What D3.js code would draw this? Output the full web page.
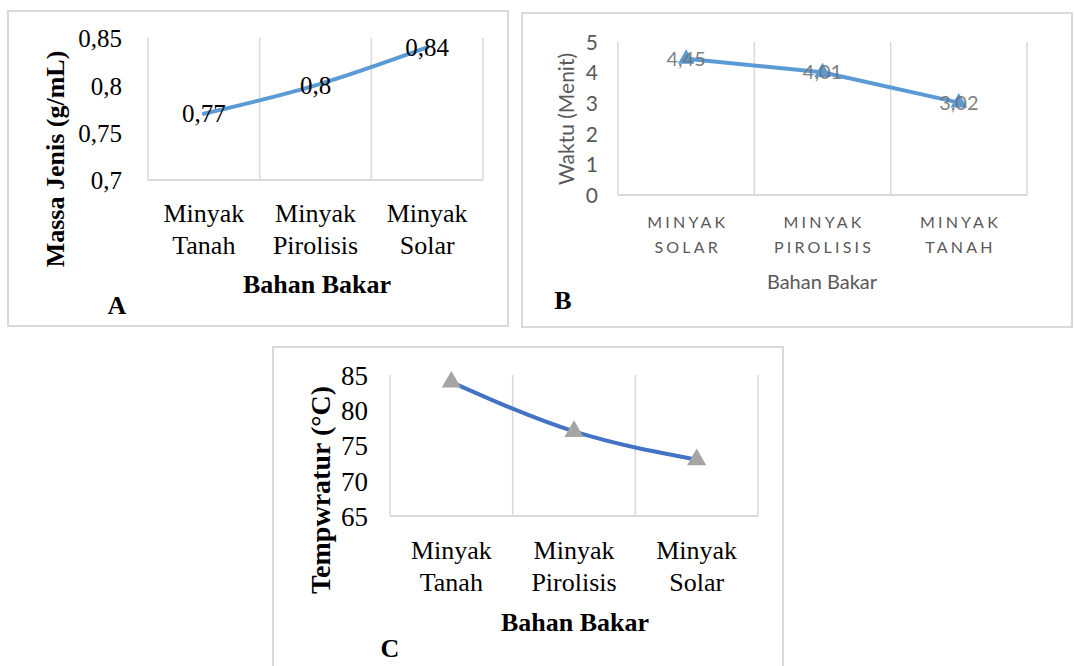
<!DOCTYPE html>
<html>
<head>
<meta charset="utf-8">
<script src="https://cdn.jsdelivr.net/npm/d3@7"></script>
<style>
  html, body { margin: 0; padding: 0; background: #fff; }
  svg { display: block; }
</style>
</head>
<body>
<svg id="chart" width="1074" height="666"></svg>
<script>
// Panel A — density of each fuel
const densityCategories = [["Minyak", "Tanah"], ["Minyak", "Pirolisis"], ["Minyak", "Solar"]];
const densityValues = [0.77, 0.80, 0.84];
const densityLabels = ["0,77", "0,8", "0,84"];
const densityTicks = [0.7, 0.75, 0.8, 0.85];
const densityTickLabels = ["0,7", "0,75", "0,8", "0,85"];

// Panel B — burning time
const timeCategories = [["MINYAK", "SOLAR"], ["MINYAK", "PIROLISIS"], ["MINYAK", "TANAH"]];
const timeValues = [4.45, 4.01, 3.02];
const timeLabels = ["4,45", "4,01", "3,02"];
const timeTicks = [0, 1, 2, 3, 4, 5];
const timeTickLabels = ["0", "1", "2", "3", "4", "5"];

// Panel C — temperature
const tempCategories = [["Minyak", "Tanah"], ["Minyak", "Pirolisis"], ["Minyak", "Solar"]];
const tempValues = [84, 77, 73];
const tempTicks = [65, 70, 75, 80, 85];
const tempTickLabels = ["65", "70", "75", "80", "85"];

const svg = d3.select("#chart");
const SERIF = "'Liberation Serif', 'Times New Roman', serif";
const SANS = "Lato, 'Open Sans', 'Liberation Sans', sans-serif";

function panel(cfg) {
  const g = svg.append("g");
  // frame
  g.append("rect")
    .attr("x", cfg.frame[0]).attr("y", cfg.frame[1])
    .attr("width", cfg.frame[2]).attr("height", cfg.frame[3])
    .attr("fill", "none").attr("stroke", "#d9d9d9").attr("stroke-width", 2);

  const [L, T, R, B] = cfg.plot;
  const idx = cfg.categories.map((_, i) => i);
  const x = d3.scaleBand().domain(idx).range([L, R]).padding(0);
  const y = d3.scaleLinear().domain(cfg.domain).range([B, T]);

  // vertical gridlines at category boundaries
  const bounds = idx.map(i => x(i)).concat([R]);
  g.append("g").selectAll("line").data(bounds).join("line")
    .attr("x1", d => d).attr("x2", d => d)
    .attr("y1", T).attr("y2", B)
    .attr("stroke", "#d9d9d9").attr("stroke-width", 1.5);
  g.append("line").attr("x1", L).attr("x2", R).attr("y1", B).attr("y2", B)
    .attr("stroke", "#d9d9d9").attr("stroke-width", 2);

  // y tick labels
  const yAxis = d3.axisLeft(y).tickValues(cfg.ticks)
    .tickFormat((d, i) => cfg.tickLabels[i]).tickSize(0).tickPadding(0);
  const ya = g.append("g").attr("transform", `translate(${cfg.tickX},0)`).call(yAxis);
  ya.select(".domain").remove();
  ya.selectAll("text")
    .attr("font-family", cfg.font).attr("font-size", cfg.tickSize)
    .attr("fill", cfg.textColor).attr("dy", "0.35em");

  // category labels (two lines)
  const cat = g.append("g").selectAll("text").data(cfg.categories).join("text")
    .attr("text-anchor", "middle")
    .attr("font-family", cfg.font).attr("font-size", cfg.catSize)
    .attr("fill", cfg.textColor)
    .attr("letter-spacing", cfg.catSpacing || 0);
  cat.each(function (d, i) {
    const t = d3.select(this);
    d.forEach((line, k) => {
      t.append("tspan")
        .attr("x", x(i) + x.bandwidth() / 2 + (cfg.catSpacing ? cfg.catSpacing / 2 : 0))
        .attr("y", cfg.catY[k])
        .attr("dy", "0.35em")
        .text(line);
    });
  });

  // axis titles
  g.append("text")
    .attr("transform", `translate(${cfg.yTitlePos[0]},${cfg.yTitlePos[1]}) rotate(-90)`)
    .attr("text-anchor", "middle").attr("dy", "0.35em")
    .attr("font-family", cfg.font).attr("font-size", cfg.yTitleSize)
    .attr("font-weight", cfg.titleWeight).attr("fill", cfg.textColor)
    .text(cfg.yTitle);
  g.append("text")
    .attr("x", cfg.xTitlePos[0]).attr("y", cfg.xTitlePos[1])
    .attr("text-anchor", "middle").attr("dy", "0.35em")
    .attr("font-family", cfg.font).attr("font-size", cfg.xTitleSize)
    .attr("font-weight", cfg.titleWeight).attr("fill", cfg.textColor)
    .text("Bahan Bakar");

  // panel letter
  g.append("text")
    .attr("x", cfg.letterPos[0]).attr("y", cfg.letterPos[1])
    .attr("text-anchor", "middle").attr("dy", "0.35em")
    .attr("font-family", SERIF).attr("font-size", 26).attr("font-weight", "bold")
    .attr("fill", "#000").text(cfg.letter);

  // series line
  const pts = cfg.values.map((v, i) => [x(i) + x.bandwidth() / 2, y(v)]);
  g.append("path")
    .attr("d", d3.line().curve(cfg.curve)(pts))
    .attr("fill", "none").attr("stroke", cfg.lineColor)
    .attr("stroke-width", 4).attr("stroke-linecap", "round").attr("stroke-linejoin", "round");

  // markers
  if (cfg.marker) {
    g.append("g").selectAll("path").data(pts).join("path")
      .attr("transform", d => `translate(${d[0]},${d[1]})`)
      .attr("d", d3.symbol(d3.symbolTriangle, cfg.marker.size)())
      .attr("fill", cfg.marker.color);
  }

  // data labels centred on the points
  if (cfg.labels) {
    g.append("g").selectAll("text").data(pts).join("text")
      .attr("x", d => d[0]).attr("y", d => d[1])
      .attr("text-anchor", "middle").attr("dy", "0.35em")
      .attr("font-family", cfg.font).attr("font-size", cfg.labelSize)
      .attr("fill", cfg.labelColor).attr("fill-opacity", cfg.labelOpacity || 1)
      .text((d, i) => cfg.labels[i]);
  }
}

panel({
  frame: [8, 11, 500, 315],
  plot: [148, 38, 483, 180],
  categories: densityCategories, values: densityValues, labels: densityLabels,
  domain: [0.7, 0.85], ticks: densityTicks, tickLabels: densityTickLabels,
  tickX: 122, font: SERIF, tickSize: 25, catSize: 26, catY: [213, 245],
  textColor: "#000", titleWeight: "bold",
  yTitle: "Massa Jenis (g/mL)", yTitlePos: [55, 159], yTitleSize: 26,
  xTitlePos: [317, 284], xTitleSize: 26,
  letter: "A", letterPos: [117, 305],
  lineColor: "#5b9bd5", curve: d3.curveMonotoneX,
  labelSize: 25, labelColor: "#000"
});

panel({
  frame: [522, 13, 550, 314],
  plot: [618, 42, 1027, 195],
  categories: timeCategories, values: timeValues, labels: timeLabels,
  domain: [0, 5], ticks: timeTicks, tickLabels: timeTickLabels,
  tickX: 598, font: SANS, tickSize: 21, catSize: 16, catSpacing: 3.2, catY: [222, 247],
  textColor: "#595959", titleWeight: "normal",
  yTitle: "Waktu (Menit)", yTitlePos: [567, 119], yTitleSize: 21,
  xTitlePos: [822, 282], xTitleSize: 20,
  letter: "B", letterPos: [563, 300],
  lineColor: "#5b9bd5", curve: d3.curveLinear,
  marker: { size: 120, color: "#5b9bd5" },
  labelSize: 20, labelColor: "#6f6f6f", labelOpacity: 0.9
});

panel({
  frame: [273, 347, 510, 330],
  plot: [390, 375, 758, 516],
  categories: tempCategories, values: tempValues,
  domain: [65, 85], ticks: tempTicks, tickLabels: tempTickLabels,
  tickX: 368, font: SERIF, tickSize: 27, catSize: 26, catY: [550, 582],
  textColor: "#000", titleWeight: "bold",
  yTitle: "Tempwratur (°C)", yTitlePos: [320, 490], yTitleSize: 28,
  xTitlePos: [575, 622], xTitleSize: 26,
  letter: "C", letterPos: [390, 648],
  lineColor: "#4472c4", curve: d3.curveMonotoneX,
  marker: { size: 160, color: "#a5a5a5" }
});
</script>
</body>
</html>
